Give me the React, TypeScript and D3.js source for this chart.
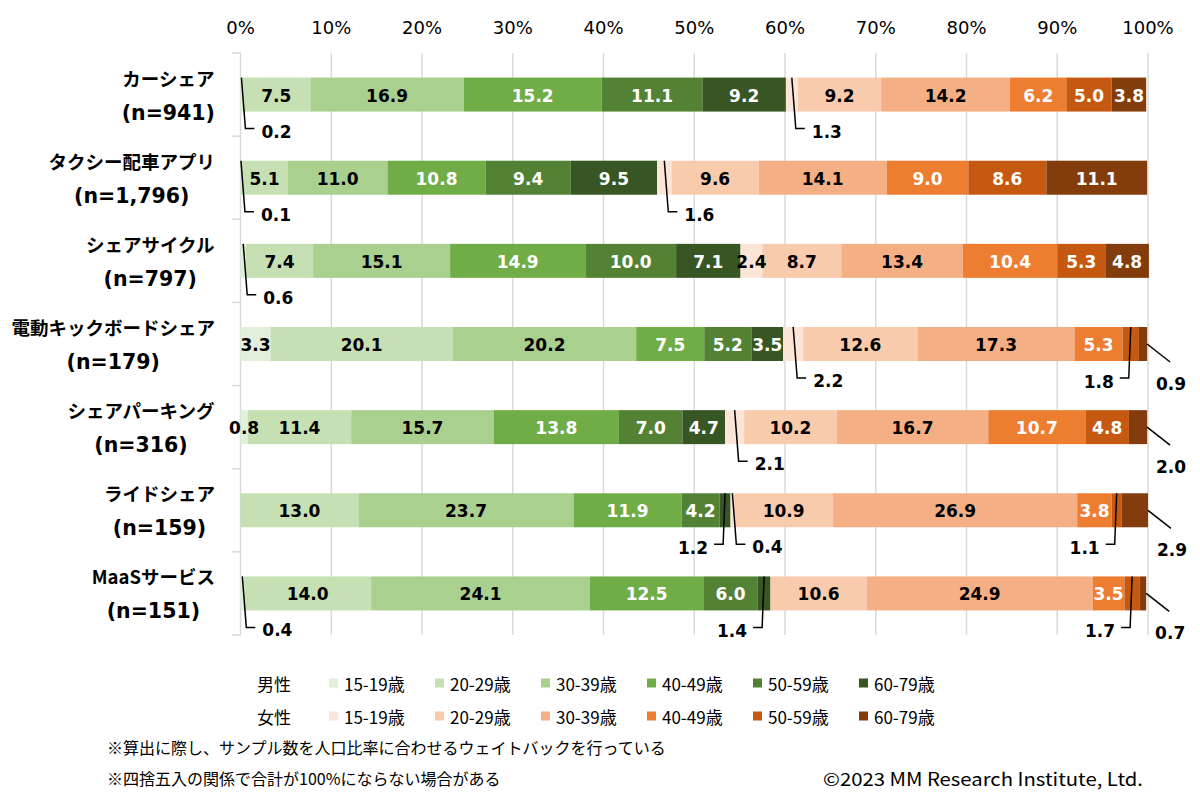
import React from "react";
import * as d3 from "d3";

const categories = ["カーシェア", "タクシー配車アプリ", "シェアサイクル", "電動キックボードシェア", "シェアパーキング", "ライドシェア", "MaaSサービス"];
const sampleSizes = ["941", "1,796", "797", "179", "316", "159", "151"];
const ageGroups = ["15-19歳", "20-29歳", "30-39歳", "40-49歳", "50-59歳", "60-79歳"];
const maleValues = [
  [0.2, 7.5, 16.9, 15.2, 11.1, 9.2],
  [0.1, 5.1, 11.0, 10.8, 9.4, 9.5],
  [0.6, 7.4, 15.1, 14.9, 10.0, 7.1],
  [3.3, 20.1, 20.2, 7.5, 5.2, 3.5],
  [0.8, 11.4, 15.7, 13.8, 7.0, 4.7],
  [0, 13.0, 23.7, 11.9, 4.2, 1.2],
  [0.4, 14.0, 24.1, 12.5, 6.0, 1.4],
];
const femaleValues = [
  [1.3, 9.2, 14.2, 6.2, 5.0, 3.8],
  [1.6, 9.6, 14.1, 9.0, 8.6, 11.1],
  [2.4, 8.7, 13.4, 10.4, 5.3, 4.8],
  [2.2, 12.6, 17.3, 5.3, 1.8, 0.9],
  [2.1, 10.2, 16.7, 10.7, 4.8, 2.0],
  [0.4, 10.9, 26.9, 3.8, 1.1, 2.9],
  [0, 10.6, 24.9, 3.5, 1.7, 0.7],
];
const maleColors = ["#e2efda", "#c6e0b4", "#a9d08e", "#70ad47", "#548235", "#375623"];
const femaleColors = ["#fce4d6", "#f8cbad", "#f4b084", "#ed7d31", "#c65911", "#833c0c"];
const xTicks = [0, 10, 20, 30, 40, 50, 60, 70, 80, 90, 100];
// callouts: [category index, segment index (0-5 male, 6-11 female), style]
const callouts: [number, number, string][] = [
  [0, 0, "R"], [0, 6, "R"],
  [1, 0, "R"], [1, 6, "R"],
  [2, 0, "R"],
  [3, 6, "R"], [3, 10, "L"], [3, 11, "D"],
  [4, 6, "R"], [4, 11, "D"],
  [5, 5, "L"], [5, 6, "R"], [5, 10, "L"], [5, 11, "D"],
  [6, 0, "R"], [6, 5, "L"], [6, 10, "L"], [6, 11, "D"],
];
const notes = [
  "※算出に際し、サンプル数を人口比率に合わせるウェイトバックを行っている",
  "※四捨五入の関係で合計が100%にならない場合がある",
];
const copyright = "©2023 MM Research Institute, Ltd.";

const W = 1200;
const H = 801;
const JP = "'Noto Sans CJK JP', 'Noto Sans', sans-serif";
const NUM = "'DejaVu Sans', Verdana, sans-serif";

let ctx: CanvasRenderingContext2D | null = null;
function measure(text: string, font: string): number {
  if (typeof document === "undefined") return text.length * 10;
  if (!ctx) ctx = document.createElement("canvas").getContext("2d");
  if (!ctx) return text.length * 10;
  ctx.font = font;
  return ctx.measureText(text).width;
}

export default function App() {
  const x = d3.scaleLinear().domain([0, 100]).range([240.5, 1148]);
  const y = d3.scaleBand<string>().domain(categories).range([53, 635]).padding(0);
  const bw = y.bandwidth();
  const barH = 34;
  const colors = [...maleColors, ...femaleColors];
  const nameFont = "bold 18.5px 'Noto Sans CJK JP'";
  const nFont = "bold 20.5px 'DejaVu Sans'";

  const rows = categories.map((c, i) => {
    const vals = [...maleValues[i], ...femaleValues[i]];
    let acc = 0;
    const segs = vals.map((v, j) => {
      const s = { v, j, x0: acc, x1: acc + v };
      acc += v;
      return s;
    });
    const yc = (y(c) as number) + bw / 2;
    const nLabel = `(n=${sampleSizes[i]})`;
    const blockW = Math.max(measure(c, nameFont), measure(nLabel, nFont));
    const lx = 215 - blockW / 2;
    return { c, i, segs, yc, top: yc - barH / 2, bottom: yc + barH / 2, nLabel, lx };
  });

  const isCallout = (i: number, j: number) => callouts.some((k) => k[0] === i && k[1] === j);

  return (
    <svg width={W} height={H} style={{ display: "block", position: "absolute", left: 0, top: 0, background: "#fff" }}>
      <rect x={0} y={0} width={W} height={H} fill="#fff" />
      {/* gridlines */}
      {xTicks.map((t) => (
        <line key={"g" + t} x1={x(t)} x2={x(t)} y1={53} y2={635} stroke="#d9d9d9" strokeWidth={1.5} />
      ))}
      {/* left axis ticks */}
      {d3.range(categories.length + 1).map((k) => (
        <line key={"yt" + k} x1={232} x2={240.5} y1={53 + k * bw} y2={53 + k * bw} stroke="#d9d9d9" strokeWidth={1.5} />
      ))}
      {/* top axis labels */}
      {xTicks.map((t) => (
        <text key={"xl" + t} x={x(t)} y={27} textAnchor="middle" dominantBaseline="central" fontFamily={NUM} fontSize={18} fill="#000">
          {t + "%"}
        </text>
      ))}
      {/* category labels */}
      {rows.map((r) => (
        <g key={"cl" + r.i} fontWeight="bold" fill="#000">
          <text x={r.lx} y={r.yc - 17} textAnchor="middle" dominantBaseline="central" fontSize={18.5} fontFamily={JP}>{r.c}</text>
          <text x={r.lx} y={r.yc + 18} textAnchor="middle" dominantBaseline="central" fontSize={20.5} fontFamily={NUM}>{r.nLabel}</text>
        </g>
      ))}
      {/* bars */}
      {rows.map((r) => (
        <g key={"b" + r.i}>
          {r.segs.filter((s) => s.v > 0).map((s) => (
            <rect key={s.j} x={x(s.x0)} y={r.top} width={x(s.x1) - x(s.x0)} height={barH} fill={colors[s.j]} />
          ))}
        </g>
      ))}
      {/* inside labels */}
      {rows.map((r) => (
        <g key={"il" + r.i} fontFamily={NUM} fontWeight="bold" fontSize={17}>
          {r.segs.filter((s) => s.v > 0 && !isCallout(r.i, s.j)).map((s) => (
            <text key={s.j} x={(x(s.x0) + x(s.x1)) / 2} y={r.yc + 1} textAnchor="middle" dominantBaseline="central"
              fill={s.j % 6 >= 3 ? "#fff" : "#000"}>
              {s.v.toFixed(1)}
            </text>
          ))}
        </g>
      ))}
      {/* callouts */}
      {callouts.map(([i, j, kind]) => {
        const r = rows[i];
        const s = r.segs[j];
        const cx = (x(s.x0) + x(s.x1)) / 2;
        const label = s.v.toFixed(1);
        const ly = r.bottom + 17;
        if (kind === "R") {
          return (
            <g key={"co" + i + "-" + j}>
              <path d={`M${cx},${r.top}L${cx + 4},${ly}L${cx + 13},${ly}`} fill="none" stroke="#000" strokeWidth={1.5} />
              <text x={cx + 20} y={ly + 3} dominantBaseline="central" fontFamily={NUM} fontWeight="bold" fontSize={17}>{label}</text>
            </g>
          );
        }
        if (kind === "L") {
          return (
            <g key={"co" + i + "-" + j}>
              <path d={`M${cx},${r.top}L${cx - 2},${ly}L${cx - 11},${ly}`} fill="none" stroke="#000" strokeWidth={1.5} />
              <text x={cx - 17} y={ly + 4} textAnchor="end" dominantBaseline="central" fontFamily={NUM} fontWeight="bold" fontSize={17}>{label}</text>
            </g>
          );
        }
        const xe = x(s.x1);
        return (
          <g key={"co" + i + "-" + j}>
            <path d={`M${xe},${r.yc}L${xe + 23},${r.yc + 18}`} fill="none" stroke="#000" strokeWidth={1.5} />
            <text x={xe + 24} y={r.bottom + 23} textAnchor="middle" dominantBaseline="central" fontFamily={NUM} fontWeight="bold" fontSize={17}>{label}</text>
          </g>
        );
      })}
      {/* legend */}
      {[["男性", maleColors], ["女性", femaleColors]].map(([name, cols], k) => (
        <g key={"lg" + k} fontFamily={JP} fontSize={17} fill="#000">
          <text x={257} y={683 + k * 33} dominantBaseline="central">{name as string}</text>
          {ageGroups.map((a, m) => (
            <g key={m}>
              <rect x={329 + m * 106} y={683 + k * 33 - 4.5} width={9} height={9} fill={(cols as string[])[m]} />
              <text x={344 + m * 106} y={683 + k * 33} dominantBaseline="central">{a}</text>
            </g>
          ))}
        </g>
      ))}
      {/* notes */}
      {notes.map((n, k) => (
        <text key={"n" + k} x={107} y={747 + k * 31} dominantBaseline="central" fontFamily={JP} fontSize={16} fill="#000">{n}</text>
      ))}
      <text x={1143} y={778} textAnchor="end" dominantBaseline="central" fontFamily={JP} fontSize={18} textLength={320} lengthAdjust="spacingAndGlyphs" fill="#000">{copyright}</text>
    </svg>
  );
}
